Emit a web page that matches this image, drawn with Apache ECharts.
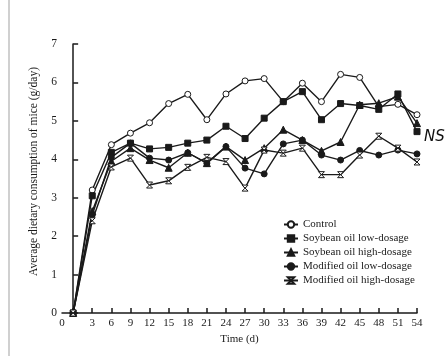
<!DOCTYPE html>
<html>
<head>
<meta charset="utf-8">
<style>
  html, body { margin: 0; padding: 0; background: #fff; }
  #main { width: 446px; height: 356px; }
</style>
<script src="https://cdn.jsdelivr.net/npm/echarts@6/dist/echarts.min.js"></script>
</head>
<body>
<div id="main"></div>
<script>
// days of the feeding trial
const days = [0, 3, 6, 9, 12, 15, 18, 21, 24, 27, 30, 33, 36, 39, 42, 45, 48, 51, 54];
const yTicks = [0, 1, 2, 3, 4, 5, 6, 7];

// average dietary consumption (g/day)
const control      = [0, 3.2, 4.38, 4.68, 4.95, 5.45, 5.69, 5.03, 5.70, 6.04, 6.10, 5.50, 5.98, 5.50, 6.21, 6.13, 5.37, 5.43, 5.16];
const soyLow       = [0, 3.05, 4.18, 4.42, 4.27, 4.31, 4.42, 4.50, 4.86, 4.54, 5.07, 5.50, 5.76, 5.03, 5.45, 5.40, 5.30, 5.70, 4.72];
const soyHigh      = [0, 2.65, 3.95, 4.29, 3.98, 3.78, 4.17, 3.90, 4.33, 3.98, 4.29, 4.77, 4.50, 4.22, 4.45, 5.42, 5.46, 5.63, 4.94];
const modLow       = [0, 2.55, 4.05, 4.42, 4.03, 3.98, 4.17, 3.90, 4.33, 3.77, 3.62, 4.40, 4.50, 4.11, 3.98, 4.23, 4.11, 4.24, 4.14];
const modHigh      = [0, 2.40, 3.80, 4.03, 3.33, 3.44, 3.79, 4.05, 3.94, 3.25, 4.24, 4.16, 4.29, 3.60, 3.60, 4.11, 4.60, 4.29, 3.93];

const seriesNames = ['Control', 'Soybean oil low-dosage', 'Soybean oil high-dosage', 'Modified oil low-dosage', 'Modified oil high-dosage'];

const xMin = -1.75;
const font = 'Liberation Serif';
const ink = '#1a1a1a';

const chart = echarts.init(document.getElementById('main'), null, { renderer: 'canvas' });

function pairs(vals) {
  return days.map((d, i) => [d, vals[i]]);
}

// hourglass-like cross marker
const xMark = 'path://M0,0L10,0L0,10L10,10Z';

function makeSeries(name, vals, symbol, size, filled) {
  return {
    name: name,
    type: 'line',
    data: pairs(vals),
    symbol: symbol,
    symbolSize: size,
    showAllSymbol: true,
    lineStyle: { color: ink, width: 1.4 },
    itemStyle: {
      color: filled ? ink : '#fff',
      borderColor: ink,
      borderWidth: 1
    },
    emphasis: { disabled: true },
    z: 3
  };
}

const option = {
  backgroundColor: '#ffffff',
  animation: false,
  grid: { left: 62, right: 29, top: 44, bottom: 43 },
  legend: {
    orient: 'vertical',
    left: 283,
    top: 219,
    padding: 0,
    itemWidth: 14,
    itemHeight: 8,
    itemGap: 3,
    textStyle: { fontFamily: font, fontSize: 11, color: ink },
    data: seriesNames
  },
  xAxis: {
    type: 'value',
    min: xMin,
    max: 54,
    name: 'Time (d)',
    nameLocation: 'middle',
    nameGap: 21,
    nameTextStyle: { fontFamily: font, fontSize: 11, color: ink },
    splitLine: { show: false },
    axisLine: { lineStyle: { color: ink, width: 1.5 } },
    axisTick: { inside: true, length: 5, customValues: days, lineStyle: { color: ink, width: 1.5 } },
    axisLabel: {
      customValues: [xMin].concat(days.slice(1)),
      margin: 5,
      fontFamily: font,
      fontSize: 11,
      color: ink,
      formatter: v => (v < 0 ? '0' : String(v))
    }
  },
  yAxis: {
    type: 'value',
    min: 0,
    max: 7,
    interval: 1,
    name: 'Average dietary consumption of mice (g/day)',
    nameLocation: 'middle',
    nameGap: 14,
    nameTextStyle: { fontFamily: font, fontSize: 11.5, color: ink, padding: [0, 0, 0, 14] },
    splitLine: { show: false },
    axisLine: { show: true, lineStyle: { color: ink, width: 1.5 } },
    axisTick: { show: true, inside: true, length: 5, lineStyle: { color: ink, width: 1.5 } },
    axisLabel: {
      margin: 5,
      fontFamily: font,
      fontSize: 11.5,
      color: ink,
      formatter: v => (yTicks.indexOf(v) >= 0 ? String(v) : '')
    }
  },
  graphic: [
    {
      type: 'text',
      left: 424,
      top: 130,
      style: { text: 'NS', fontFamily: 'DejaVu Sans', fontStyle: 'italic', fontWeight: 'lighter', fontSize: 15, fill: '#111' }
    },
    {
      type: 'rect',
      left: 8,
      top: 0,
      shape: { width: 2, height: 356 },
      style: { fill: '#d0d0d0' }
    }
  ],
  series: [
    makeSeries(seriesNames[0], control, 'circle', 6, false),
    makeSeries(seriesNames[1], soyLow, 'rect', 6, true),
    makeSeries(seriesNames[2], soyHigh, 'triangle', 7, true),
    makeSeries(seriesNames[3], modLow, 'circle', 6, true),
    makeSeries(seriesNames[4], modHigh, xMark, 6, false)
  ]
};

chart.setOption(option);
</script>
</body>
</html>
